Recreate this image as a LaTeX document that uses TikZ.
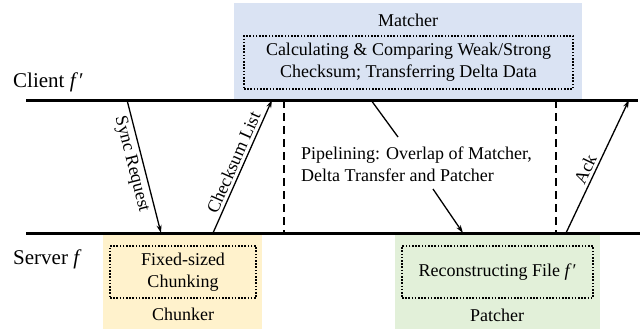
\documentclass[tikz,border=0pt]{standalone}
\usepackage{fontspec}
\setmainfont{Liberation Serif}
\usetikzlibrary{arrows.meta}
\definecolor{matcherfill}{HTML}{DAE3F3}
\definecolor{chunkfill}{HTML}{FFF2CC}
\definecolor{patchfill}{HTML}{E2F0D9}
\begin{document}
\begin{tikzpicture}[x=1pt,y=-1pt,
  every node/.style={font=\fontsize{18}{22}\selectfont, inner sep=0pt},
  panel/.style={anchor=north west, draw=none},
  lane/.style={line width=3pt},
  msg/.style={line width=1.3pt, -{Stealth[length=8pt,width=5pt]}},
  pointer/.style={line width=1.3pt},
  sepline/.style={line width=2pt, dash pattern=on 8pt off 5pt},
  innerbox/.style={draw, line width=1.6pt, dash pattern=on 1.6pt off 1.6pt, align=center},
  lanelabel/.style={font=\fontsize{21}{24}\selectfont, anchor=base west}]
\useasboundingbox (0,0) rectangle (640,329);
% coloured panels
\node[panel, fill=matcherfill, minimum width=348pt, minimum height=97pt] (matcher) at (234,3) {};
\node[panel, fill=chunkfill, minimum width=159pt, minimum height=96pt] (chunker) at (103,233) {};
\node[panel, fill=patchfill, minimum width=205pt, minimum height=96pt] (patcher) at (395,233) {};
% panel titles
\node (mtitle) at (408,20) {Matcher};
\node (ctitle) at (183,314) {Chunker};
\node (ptitle) at (497,315) {Patcher};
% inner dotted boxes
\node[innerbox, minimum width=329pt, minimum height=53pt] (minner) at (408.5,62.5)
  {Calculating \& Comparing Weak/Strong\\Checksum; Transferring Delta Data};
\node[innerbox, minimum width=146pt, minimum height=52pt] (cinner) at (183,272)
  {Fixed-sized\\Chunking};
\node[innerbox, minimum width=191pt, minimum height=52pt] (pinner) at (497.5,272)
  {Reconstructing File \textit{f\,}′};
% lanes
\coordinate (cl) at (26,100); \coordinate (cr) at (638,100);
\coordinate (sl) at (26,233); \coordinate (sr) at (640,233);
\draw[lane] (cl) -- (cr);
\draw[lane] (sl) -- (sr);
\node[lanelabel] (client) at (13,88) {Client \textit{f\,}′};
\node[lanelabel] (server) at (13,264) {Server \textit{f}};
% dashed separators
\coordinate (d1t) at (284,100); \coordinate (d1b) at (284,233);
\coordinate (d2t) at (556,100); \coordinate (d2b) at (556,233);
\draw[sepline] (d1t) -- (d1b);
\draw[sepline] (d2t) -- (d2b);
% messages
\coordinate (sync1) at (127,100); \coordinate (sync2) at (161,233);
\draw[msg] (sync1) -- node[sloped, below=3pt, pos=0.46] (synclbl) {Sync Request} (sync2);
\coordinate (cks1) at (213,233); \coordinate (cks2) at (272,100);
\draw[msg] (cks1) -- node[sloped, above=3pt, pos=0.5] (ckslbl) {Checksum List} (cks2);
\coordinate (ack1) at (566,233); \coordinate (ack2) at (629,100);
\draw[msg] (ack1) -- node[sloped, above=3pt, pos=0.45] (acklbl) {Ack} (ack2);
% pipelining
\node[anchor=west, align=left] (pipe) at (301,164)
  {Pipelining: Overlap of Matcher,\\Delta Transfer and Patcher};
\coordinate (pa) at (371,100); \coordinate (pb) at (398,137);
\coordinate (pc) at (433,189); \coordinate (pd) at (463,233);
\draw[pointer] (pa) -- (pb);
\draw[msg] (pc) -- (pd);
\end{tikzpicture}
\end{document}
